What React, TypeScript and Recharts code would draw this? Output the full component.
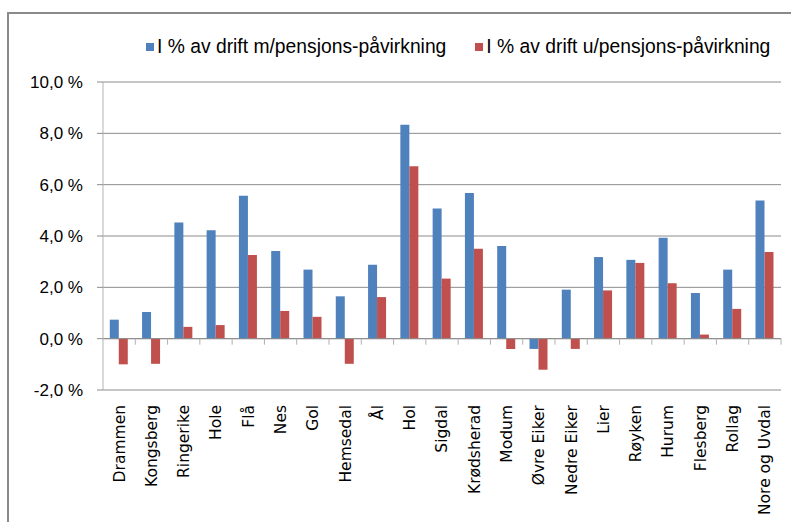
import {
  BarChart,
  Bar,
  XAxis,
  YAxis,
  CartesianGrid,
  ReferenceLine,
} from 'recharts';

const kommuner = [
  'Drammen', 'Kongsberg', 'Ringerike', 'Hole', 'Flå', 'Nes', 'Gol', 'Hemsedal', 'Ål', 'Hol',
  'Sigdal', 'Krødsherad', 'Modum', 'Øvre Eiker', 'Nedre Eiker', 'Lier', 'Røyken', 'Hurum',
  'Flesberg', 'Rollag', 'Nore og Uvdal',
];
const medPensjon = [
  0.74, 1.04, 4.53, 4.22, 5.57, 3.42, 2.69, 1.65, 2.88, 8.33,
  5.07, 5.68, 3.61, -0.4, 1.91, 3.18, 3.07, 3.93, 1.78, 2.69, 5.38,
];
const utenPensjon = [
  -1.0, -0.98, 0.46, 0.53, 3.26, 1.08, 0.85, -0.98, 1.62, 6.72,
  2.34, 3.5, -0.4, -1.21, -0.4, 1.88, 2.95, 2.16, 0.16, 1.16, 3.38,
];
const yTicks = [-2, 0, 2, 4, 6, 8, 10];

const serier = [
  { key: 'med', name: 'I % av drift m/pensjons-påvirkning', color: '#4F81BD' },
  { key: 'uten', name: 'I % av drift u/pensjons-påvirkning', color: '#C0504D' },
];

const data = kommuner.map((navn, i) => ({
  navn,
  med: medPensjon[i],
  uten: utenPensjon[i],
}));

const labelFont = '"Liberation Sans Narrow", "Arial Narrow", "Liberation Sans", sans-serif';
const gridColor = '#8c8c8c';

const fmt = (v: number) => `${v.toFixed(1).replace('.', ',')} %`;

function KategoriTick({ x, y, payload }: any) {
  return (
    <g transform={`translate(${x},${y + 13})`}>
      <text
        transform="rotate(-90)"
        textAnchor="end"
        dy="0.35em"
        style={{ fontFamily: '"DejaVu Sans", sans-serif', fontSize: 15.5 }}
        fill="#000"
      >
        {payload.value}
      </text>
    </g>
  );
}

// nullinje med små markeringer mellom kategoriene
function NullLinje({ x1, x2, y1 }: any) {
  const n = kommuner.length;
  const step = (x2 - x1) / n;
  return (
    <g>
      <line x1={x1} x2={x2} y1={y1} y2={y1} stroke={gridColor} strokeWidth={1} />
      {kommuner.map((_, i) => (
        <line
          key={i}
          x1={x1 + step * (i + 1)}
          x2={x1 + step * (i + 1)}
          y1={y1}
          y2={y1 + 6}
          stroke="#b0b0b0"
          strokeWidth={1}
        />
      ))}
    </g>
  );
}

function Tegnforklaring() {
  return (
    <div style={{ display: 'flex', gap: 29, fontFamily: labelFont, fontSize: 19.3, color: '#000' }}>
      {serier.map((s) => (
        <div key={s.key} style={{ display: 'flex', alignItems: 'center' }}>
          <span style={{ width: 8, height: 8, background: s.color, marginRight: 3, display: 'inline-block' }} />
          <span>{s.name}</span>
        </div>
      ))}
    </div>
  );
}

export default function App() {
  return (
    <div style={{ position: 'absolute', left: 0, top: 0, width: 791, height: 522, background: '#fff', overflow: 'hidden' }}>
      <div
        style={{
          position: 'absolute',
          left: 7,
          top: 12,
          width: 820,
          height: 560,
          border: '2px solid #8a8a8a',
        }}
      />
      <div style={{ position: 'absolute', left: 146, top: 36 }}>
        <Tegnforklaring />
      </div>
      <BarChart
        width={791}
        height={522}
        data={data}
        margin={{ top: 82, right: 10, bottom: 2, left: 8 }}
        barCategoryGap="21%"
        barGap={0}
        style={{ position: 'absolute', left: 0, top: 0 }}
      >
        <CartesianGrid vertical={false} stroke={gridColor} strokeWidth={1} />
        <XAxis
          dataKey="navn"
          interval={0}
          height={130}
          axisLine={false}
          tickLine={false}
          tickSize={0}
          tick={<KategoriTick />}
        />
        <YAxis
          width={95}
          domain={[-2, 10]}
          ticks={yTicks}
          tickFormatter={fmt}
          axisLine={{ stroke: '#b3b3b3' }}
          tickLine={{ stroke: gridColor }}
          tickSize={6}
          tickMargin={14}
          tick={{ fill: '#000', fontSize: 17, fontFamily: labelFont }}
          allowDataOverflow
        />
        <ReferenceLine y={0} shape={<NullLinje />} />
        {serier.map((s) => (
          <Bar key={s.key} dataKey={s.key} name={s.name} fill={s.color} isAnimationActive={false} />
        ))}
      </BarChart>
    </div>
  );
}
